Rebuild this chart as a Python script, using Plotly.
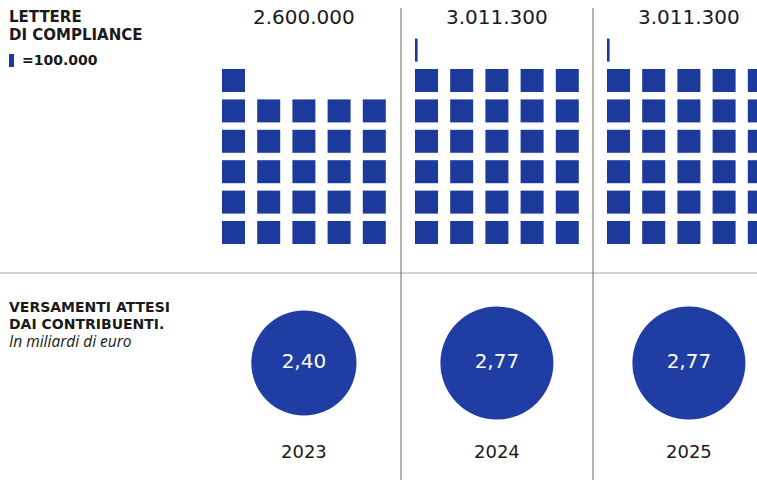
import math
import plotly.graph_objects as go

# --- data ---------------------------------------------------------------
years = ["2023", "2024", "2025"]
letters = [2600000, 3011300, 3011300]      # lettere di compliance
payments = [2.40, 2.77, 2.77]              # versamenti attesi, miliardi di euro
unit = 100000                               # one square = 100.000 letters

# --- layout constants (pixel-like coordinates) --------------------------
W, H = 757, 480
col_left = [222, 415, 607]        # left edge of each waffle block
sq = 23                            # square side
pitch_x = 35.2
pitch_y = 30.4
bottom_top = 221                   # top edge of the lowest row
per_row = 5
block_w = (per_row - 1) * pitch_x + sq
centers = [l + block_w / 2 for l in col_left]

BLUE_SQ = "#1c3a9c"
BLUE_CIRCLE = "#1f3da3"
INK = "#1a1a1a"


def it_thousands(v):
    return f"{v:,}".replace(",", ".")


def it_decimal(v):
    return f"{v:.2f}".replace(".", ",")


# --- waffle squares built from the letter counts ------------------------
bx, bbase, bw = [], [], []
for i, v in enumerate(letters):
    n = v / unit
    full = int(math.floor(n + 1e-9))
    frac = n - full
    cells = [(k, 1.0) for k in range(full)]
    if frac > 1e-6:
        cells.append((full, frac))
    for k, f in cells:
        row, col = divmod(k, per_row)
        bx.append(col_left[i] + col * pitch_x)
        bbase.append(bottom_top - row * pitch_y)
        bw.append(sq * f)

fig = go.Figure()
fig.add_trace(go.Bar(
    x=bx, y=[sq] * len(bx), base=bbase, width=bw, offset=[0] * len(bx),
    marker=dict(color=BLUE_SQ, line=dict(width=0)),
    hoverinfo="skip", showlegend=False,
))

# --- circles for expected payments (area ~ value) -----------------------
d_max = 113
sizes = [d_max * math.sqrt(p / max(payments)) for p in payments]
fig.add_trace(go.Scatter(
    x=centers, y=[363] * 3, mode="markers+text",
    marker=dict(size=sizes, color=BLUE_CIRCLE, opacity=1, line=dict(width=0)),
    text=[it_decimal(p) for p in payments], textposition="middle center",
    textfont=dict(family="DejaVu Sans", size=20, color="white"),
    hoverinfo="skip", showlegend=False, cliponaxis=False,
))

# --- totals above blocks and year labels --------------------------------
fig.add_trace(go.Scatter(
    x=centers, y=[19] * 3, mode="text",
    text=[it_thousands(v) for v in letters], textposition="middle center",
    textfont=dict(family="DejaVu Sans", size=20, color=INK),
    hoverinfo="skip", showlegend=False, cliponaxis=False,
))
fig.add_trace(go.Scatter(
    x=centers, y=[453] * 3, mode="text",
    text=years, textposition="middle center",
    textfont=dict(family="DejaVu Sans", size=18, color=INK),
    hoverinfo="skip", showlegend=False, cliponaxis=False,
))

# --- separators ---------------------------------------------------------
shapes = [
    dict(type="line", x0=0, x1=W, y0=273, y1=273, xref="x", yref="y",
         line=dict(color="#aaa49b", width=1)),
]
for xs in (401, 593):
    shapes.append(dict(type="line", x0=xs, x1=xs, y0=8, y1=H, xref="x", yref="y",
                       line=dict(color="#6e675e", width=1)))
# legend key: one thin unit bar
shapes.append(dict(type="rect", x0=9, x1=14, y0=54, y1=67, xref="x", yref="y",
                   fillcolor=BLUE_SQ, line=dict(width=0)))

head = dict(family="DejaVu Sans", size=15, color=INK, weight="bold")
head_sm = dict(family="DejaVu Sans", size=14, color=INK, weight="bold")
annotations = [
    dict(x=7, y=17, text="LETTERE", font=head),
    dict(x=7, y=35, text="DI COMPLIANCE", font=head),
    dict(x=20, y=60, text="=100.000", font=head_sm),
    dict(x=7, y=307, text="VERSAMENTI ATTESI", font=head_sm),
    dict(x=7, y=323.5, text="DAI CONTRIBUENTI.", font=head_sm),
    dict(x=7, y=341, text="In miliardi di euro",
         font=dict(family="Open Sans", size=15.5, color=INK, style="italic")),
]
for a in annotations:
    a.update(xref="x", yref="y", xanchor="left", yanchor="middle", showarrow=False)

fig.update_layout(
    width=W, height=H, autosize=False,
    margin=dict(l=0, r=0, t=0, b=0),
    paper_bgcolor="white", plot_bgcolor="white",
    barmode="overlay",
    xaxis=dict(range=[0, W], visible=False, fixedrange=True),
    yaxis=dict(range=[H, 0], visible=False, fixedrange=True),
    shapes=shapes, annotations=annotations,
)

fig.write_html("out.html")
